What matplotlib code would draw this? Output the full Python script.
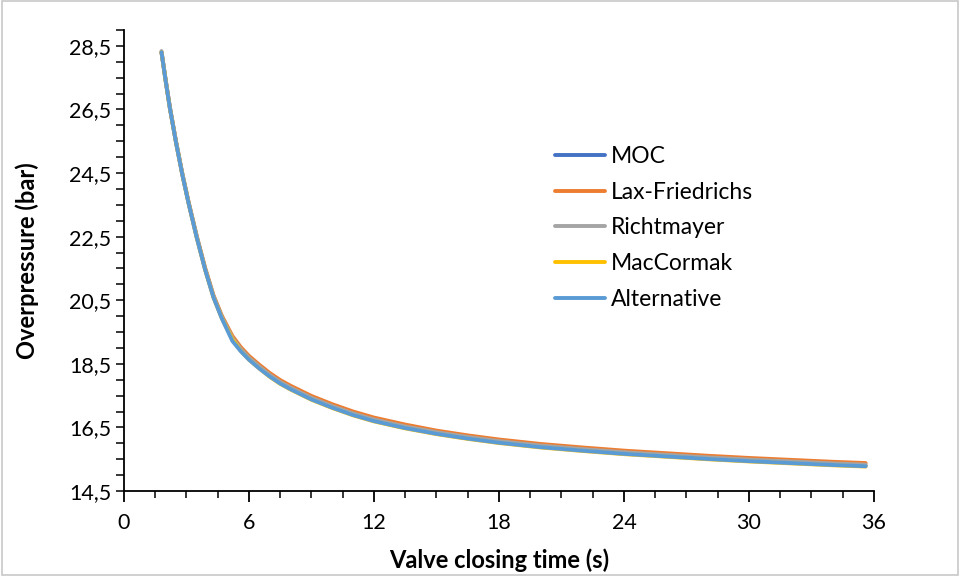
import matplotlib
matplotlib.use("Agg")
import matplotlib.pyplot as plt
from matplotlib.ticker import MultipleLocator, FuncFormatter, FixedLocator
from matplotlib.patches import Rectangle

# Valve closing time (s)
closing_time = [1.8, 2.0, 2.2, 2.5, 2.8, 3.1, 3.5, 3.9, 4.3, 4.7, 5.2, 5.6, 6.0, 6.5, 7.0, 7.5,
                8.0, 9.0, 10, 11, 12, 13.5, 15, 16.5, 18, 20, 22, 24, 26, 28, 30, 32, 34, 35.6]

# Maximum overpressure (bar) for each numerical scheme
moc = [28.30, 27.41, 26.56, 25.46, 24.46, 23.56, 22.46, 21.46, 20.60, 19.95, 19.30, 18.94,
       18.66, 18.38, 18.12, 17.90, 17.72, 17.40, 17.14, 16.91, 16.72, 16.50, 16.32, 16.17,
       16.04, 15.90, 15.79, 15.69, 15.61, 15.53, 15.46, 15.40, 15.34, 15.30]
lax_friedrichs = [28.30, 27.42, 26.57, 25.48, 24.48, 23.59, 22.50, 21.51, 20.65, 20.01, 19.38, 19.03,
                  18.75, 18.47, 18.21, 17.99, 17.81, 17.49, 17.23, 17.00, 16.81, 16.59, 16.40, 16.25,
                  16.12, 15.98, 15.87, 15.77, 15.69, 15.61, 15.54, 15.48, 15.42, 15.38]
richtmayer = [28.34, 27.43, 26.58, 25.48, 24.48, 23.58, 22.48, 21.48, 20.62, 19.97, 19.32, 18.97,
              18.69, 18.41, 18.15, 17.93, 17.75, 17.43, 17.17, 16.94, 16.75, 16.53, 16.35, 16.20,
              16.07, 15.93, 15.82, 15.72, 15.64, 15.56, 15.49, 15.43, 15.37, 15.33]
maccormak = [28.30, 27.40, 26.55, 25.45, 24.45, 23.55, 22.45, 21.45, 20.58, 19.93, 19.28, 18.91,
             18.63, 18.35, 18.09, 17.87, 17.69, 17.37, 17.11, 16.88, 16.69, 16.47, 16.29, 16.14,
             16.01, 15.87, 15.76, 15.66, 15.58, 15.50, 15.43, 15.37, 15.31, 15.27]
alternative = [28.30, 27.40, 26.55, 25.45, 24.45, 23.55, 22.45, 21.45, 20.58, 19.92, 19.22, 18.90,
               18.63, 18.35, 18.10, 17.88, 17.70, 17.38, 17.12, 16.89, 16.70, 16.48, 16.30, 16.15,
               16.02, 15.88, 15.77, 15.67, 15.59, 15.51, 15.44, 15.38, 15.32, 15.28]

series_names = ["MOC", "Lax-Friedrichs", "Richtmayer", "MacCormak", "Alternative"]
series_values = [moc, lax_friedrichs, richtmayer, maccormak, alternative]
series_colors = ["#4472C4", "#ED7D31", "#A5A5A5", "#FFC000", "#5B9BD5"]

x_major_ticks = [0, 6, 12, 18, 24, 30, 36]
y_major_ticks = [14.5, 16.5, 18.5, 20.5, 22.5, 24.5, 26.5, 28.5]

plt.rcParams["font.family"] = ["Lato", "DejaVu Sans"]

fig = plt.figure(figsize=(9.62, 5.77), dpi=100)
ax = fig.add_axes([0.1289, 0.149, 0.7796, 0.799])

for name, vals, col in zip(series_names, series_values, series_colors):
    ax.plot(closing_time, vals, color=col, lw=2.8, label=name,
            solid_capstyle="round", solid_joinstyle="round")

ax.set_xlim(0, 36)
ax.set_ylim(14.5, 29.0)

ax.xaxis.set_major_locator(FixedLocator(x_major_ticks))
ax.xaxis.set_minor_locator(MultipleLocator(1.5))
ax.yaxis.set_major_locator(FixedLocator(y_major_ticks))
ax.yaxis.set_minor_locator(MultipleLocator(0.5))
ax.yaxis.set_major_formatter(FuncFormatter(lambda v, p: f"{v:.1f}".replace(".", ",")))
ax.xaxis.set_major_formatter(FuncFormatter(lambda v, p: f"{v:g}"))

for side in ("top", "right"):
    ax.spines[side].set_visible(False)
for side in ("left", "bottom"):
    ax.spines[side].set_linewidth(1.3)
    ax.spines[side].set_color("black")

ax.tick_params(axis="x", which="major", direction="out", length=8, width=1.3,
               labelsize=15.5, pad=8, colors="black")
ax.tick_params(axis="x", which="minor", direction="out", length=5, width=1.1)
ax.tick_params(axis="y", which="both", direction="out", length=6, width=1.1,
               labelsize=15.5, pad=3, colors="black")

ax.set_xlabel("Valve closing time (s)", fontsize=17, fontweight="bold")
ax.set_ylabel("Overpressure (bar)", fontsize=17, fontweight="bold")
ax.xaxis.label.set_va("center")
ax.yaxis.label.set_va("center")
ax.xaxis.set_label_coords(0.5, -0.150)
ax.yaxis.set_label_coords(-0.129, 0.5)

leg = ax.legend(loc="center left", bbox_to_anchor=(555 / 962, 1 - 228 / 577),
                bbox_transform=fig.transFigure, frameon=False, fontsize=16.5,
                handlelength=2.2, handletextpad=0.25, labelspacing=0.64, borderpad=0,
                borderaxespad=0)

fig.patches.append(Rectangle((0.002, 0.004), 0.994, 0.994, transform=fig.transFigure,
                             fill=False, edgecolor="#C8C8C8", lw=1.2))

fig.savefig("out.png", dpi=100)
